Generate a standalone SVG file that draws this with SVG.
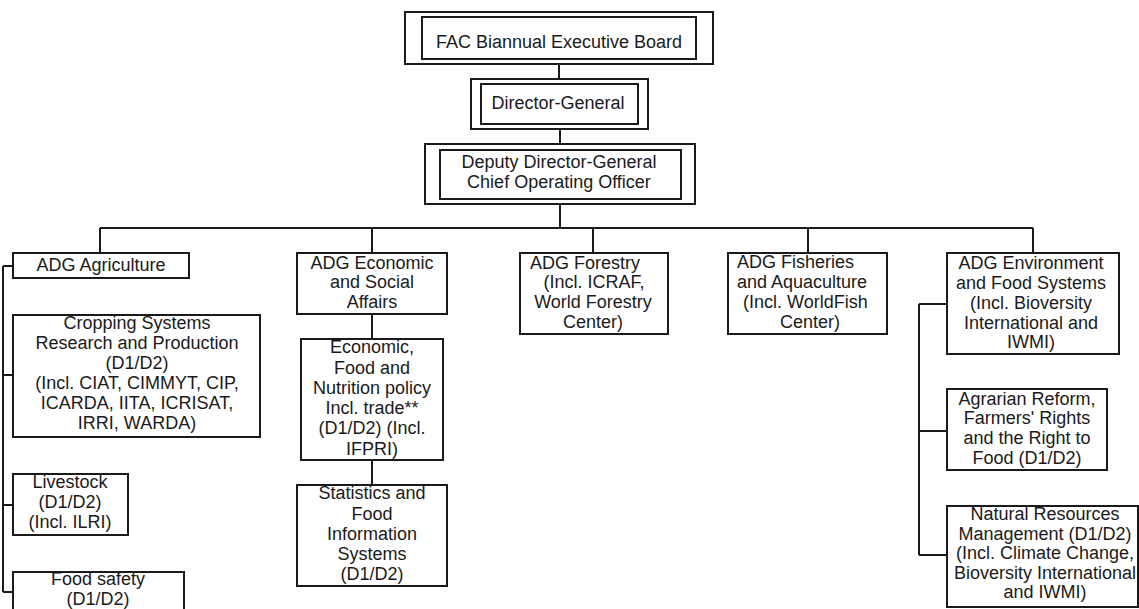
<svg xmlns="http://www.w3.org/2000/svg" width="1139" height="609" viewBox="0 0 1139 609">
<style>
.box{fill:#fff;stroke:#1a1a1a;stroke-width:2}
.ln{fill:none;stroke:#1a1a1a;stroke-width:2}
.t{font-family:"Liberation Sans",Arial,sans-serif;font-size:18px;fill:#1a1a1a;text-anchor:middle}
.s{text-anchor:start}
</style>
<rect width="1139" height="609" fill="#fff"/>
<g id="connectors">
<path class="ln" d="M559 64V79M560 129V144M560 204V228M100 228H1033M100 228V253M372 228V253M593 228V253M808 228V253M1033 228V253"/>
<path class="ln" d="M3 266V592M3 266H13M3 375H13M3 505H13M3 592H13"/>
<path class="ln" d="M372 314V339M372 460V485"/>
<path class="ln" d="M919 304V555M919 304H947M919 431H947M919 555H947"/>
</g>
<g id="fac">
<rect class="box" x="405" y="12" width="308" height="52"/>
<rect class="box" x="422" y="17" width="274" height="42"/>
<text class="t" x="559" y="48">FAC Biannual Executive Board</text>
</g>
<g id="dg">
<rect class="box" x="471" y="79" width="177" height="50"/>
<rect class="box" x="481" y="84" width="157" height="40"/>
<text class="t" x="558" y="109">Director-General</text>
</g>
<g id="ddg">
<rect class="box" x="425" y="144" width="270" height="60"/>
<rect class="box" x="440" y="150" width="241" height="49"/>
<text class="t" x="559" y="168">Deputy Director-General</text>
<text class="t" x="559" y="188">Chief Operating Officer</text>
</g>
<g id="adg-agriculture">
<rect class="box" x="13" y="253" width="176" height="25"/>
<text class="t" x="101" y="271">ADG Agriculture</text>
</g>
<g id="cropping">
<rect class="box" x="13" y="315" width="247" height="122"/>
<text class="t" x="137" y="329">Cropping Systems</text>
<text class="t" x="137" y="349">Research and Production</text>
<text class="t" x="137" y="369">(D1/D2)</text>
<text class="t" x="137" y="389">(Incl. CIAT, CIMMYT, CIP,</text>
<text class="t" x="137" y="409">ICARDA, IITA, ICRISAT,</text>
<text class="t" x="137" y="429">IRRI, WARDA)</text>
</g>
<g id="livestock">
<rect class="box" x="13" y="474" width="115" height="61"/>
<text class="t" x="70" y="488">Livestock</text>
<text class="t" x="70" y="508">(D1/D2)</text>
<text class="t" x="70" y="528">(Incl. ILRI)</text>
</g>
<g id="food-safety">
<rect class="box" x="13" y="572" width="171" height="50"/>
<text class="t" x="98" y="585">Food safety</text>
<text class="t" x="98" y="605">(D1/D2)</text>
</g>
<g id="adg-economic">
<rect class="box" x="297" y="253" width="150" height="61"/>
<text class="t" x="372" y="269">ADG Economic</text>
<text class="t" x="372" y="288">and Social</text>
<text class="t" x="372" y="308">Affairs</text>
</g>
<g id="economic-food">
<rect class="box" x="301" y="339" width="142" height="121"/>
<text class="t" x="372" y="353">Economic,</text>
<text class="t" x="372" y="374">Food and</text>
<text class="t" x="372" y="394">Nutrition policy</text>
<text class="t" x="372" y="414">Incl. trade**</text>
<text class="t" x="372" y="434">(D1/D2) (Incl.</text>
<text class="t" x="372" y="455">IFPRI)</text>
</g>
<g id="statistics">
<rect class="box" x="297" y="485" width="150" height="101"/>
<text class="t" x="372" y="499">Statistics and</text>
<text class="t" x="372" y="520">Food</text>
<text class="t" x="372" y="540">Information</text>
<text class="t" x="372" y="560">Systems</text>
<text class="t" x="372" y="580">(D1/D2)</text>
</g>
<g id="adg-forestry">
<rect class="box" x="520" y="253" width="148" height="81"/>
<text class="t" x="585" y="269">ADG Forestry</text>
<text class="t" x="594" y="288">(Incl. ICRAF,</text>
<text class="t" x="593" y="308">World Forestry</text>
<text class="t" x="593" y="328">Center)</text>
</g>
<g id="adg-fisheries">
<rect class="box" x="728" y="253" width="159" height="81"/>
<text class="t s" x="737" y="268">ADG Fisheries</text>
<text class="t s" x="737" y="288">and Aquaculture</text>
<text class="t s" x="743" y="308">(Incl. WorldFish</text>
<text class="t s" x="780" y="328">Center)</text>
</g>
<g id="adg-environment">
<rect class="box" x="947" y="253" width="172" height="101"/>
<text class="t" x="1031" y="269">ADG Environment</text>
<text class="t" x="1031" y="289">and Food Systems</text>
<text class="t" x="1031" y="309">(Incl. Bioversity</text>
<text class="t" x="1031" y="329">International and</text>
<text class="t" x="1031" y="348">IWMI)</text>
</g>
<g id="agrarian">
<rect class="box" x="947" y="389" width="160" height="81"/>
<text class="t" x="1027" y="405">Agrarian Reform,</text>
<text class="t" x="1027" y="424">Farmers' Rights</text>
<text class="t" x="1027" y="444">and the Right to</text>
<text class="t" x="1027" y="464">Food (D1/D2)</text>
</g>
<g id="natural-resources">
<rect class="box" x="947" y="506" width="191" height="101"/>
<text class="t" x="1045" y="520">Natural Resources</text>
<text class="t" x="1045" y="540">Management (D1/D2)</text>
<text class="t" x="1045" y="559">(Incl. Climate Change,</text>
<text class="t" x="1045" y="579">Bioversity International</text>
<text class="t" x="1045" y="598">and IWMI)</text>
</g>
</svg>
